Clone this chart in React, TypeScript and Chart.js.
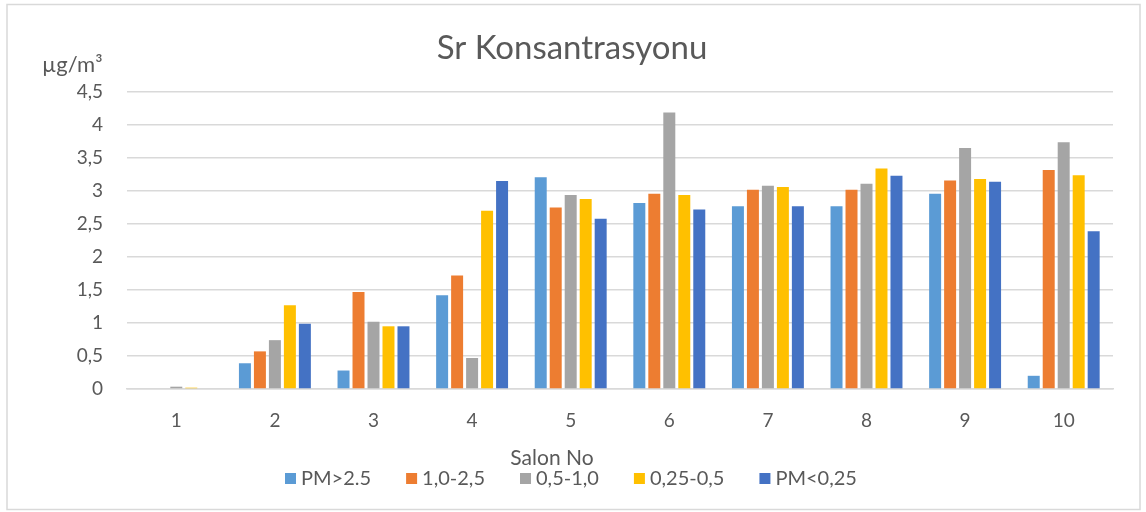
import React, { useEffect, useRef } from "react";
import { Chart, registerables } from "chart.js";

Chart.register(...registerables);

const categories = ["1", "2", "3", "4", "5", "6", "7", "8", "9", "10"];
const seriesNames = ["PM>2.5", "1,0-2,5", "0,5-1,0", "0,25-0,5", "PM<0,25"];
const pmAbove25 = [0, 0.39, 0.28, 1.42, 3.21, 2.82, 2.77, 2.77, 2.96, 0.2];
const pm10to25 = [0, 0.57, 1.47, 1.72, 2.75, 2.96, 3.02, 3.02, 3.16, 3.32];
const pm05to10 = [0.035, 0.74, 1.02, 0.47, 2.94, 4.19, 3.08, 3.11, 3.65, 3.74];
const pm025to05 = [0.02, 1.27, 0.95, 2.7, 2.88, 2.94, 3.06, 3.34, 3.18, 3.24];
const pmBelow025 = [0, 0.99, 0.95, 3.15, 2.58, 2.72, 2.77, 3.23, 3.14, 2.39];
const colors = ["#5B9BD5", "#ED7D31", "#A5A5A5", "#FFC000", "#4472C4"];
const titleText = "Sr Konsantrasyonu";
const unitText = "µg/m³";
const xTitleText = "Salon No";

const FONT = "Lato, 'Open Sans', sans-serif";
const TEXT = "#595959";

const annotations = {
  id: "annotations",
  afterDraw(chart: any) {
    const ctx = chart.ctx as CanvasRenderingContext2D;
    ctx.save();
    // outer border
    ctx.strokeStyle = "#D9D9D9";
    ctx.lineWidth = 1.5;
    ctx.strokeRect(7, 4.5, 1133, 505);
    ctx.fillStyle = TEXT;
    // title
    ctx.font = `33px ${FONT}`;
    ctx.textAlign = "center";
    ctx.textBaseline = "middle";
    ctx.fillText(titleText, 572, 48);
    // unit
    ctx.font = `22px ${FONT}`;
    ctx.textAlign = "left";
    ctx.textBaseline = "alphabetic";
    ctx.fillText(unitText, 42, 72);
    // x axis title
    ctx.font = `21px ${FONT}`;
    ctx.textAlign = "center";
    ctx.textBaseline = "middle";
    ctx.fillText(xTitleText, 552, 458);
    // legend
    ctx.font = `20px ${FONT}`;
    ctx.textAlign = "left";
    let x = 285;
    const y = 479;
    chart.data.datasets.forEach((ds: any) => {
      ctx.fillStyle = ds.backgroundColor;
      ctx.fillRect(x, y - 6, 11, 11);
      ctx.fillStyle = TEXT;
      ctx.fillText(ds.label, x + 16, y);
      x += 16 + ctx.measureText(ds.label).width + 35;
    });
    ctx.restore();
  },
};

export default function App() {
  const ref = useRef<HTMLCanvasElement | null>(null);
  useEffect(() => {
    if (!ref.current) return;
    const series = [pmAbove25, pm10to25, pm05to10, pm025to05, pmBelow025];
    const chart = new Chart(ref.current, {
      type: "bar",
      data: {
        labels: categories,
        datasets: series.map((d, i) => ({
          label: seriesNames[i],
          data: d,
          backgroundColor: colors[i],
          categoryPercentage: 0.76,
          barPercentage: 0.8,
        })),
      },
      options: {
        responsive: false,
        animation: false,
        layout: { padding: { left: 0, right: 33, top: 92, bottom: 0 } },
        plugins: {
          legend: { display: false },
          title: { display: false },
          tooltip: { enabled: false },
        },
        scales: {
          x: {
            grid: { display: false, drawTicks: false },
            border: { color: "#D9D9D9", width: 1.5 },
            ticks: {
              color: TEXT,
              font: { family: FONT, size: 19 },
              padding: 20,
              maxRotation: 0,
            },
            afterFit: (scale: any) => {
              scale.height = 123;
            },
          },
          y: {
            min: 0,
            max: 4.5,
            grid: { color: "#D9D9D9", lineWidth: 1.5, drawTicks: false },
            border: { display: false },
            ticks: {
              stepSize: 0.5,
              color: TEXT,
              font: { family: FONT, size: 19 },
              padding: 24,
              callback: (v: any) => String(v).replace(".", ","),
            },
            afterFit: (scale: any) => {
              scale.width = 127;
            },
          },
        },
      },
      plugins: [annotations],
    });
    return () => chart.destroy();
  }, []);
  return (
    <div style={{ position: "absolute", left: 0, top: 0, width: 1146, height: 512, background: "#fff" }}>
      <canvas ref={ref} width={1146} height={512} style={{ width: 1146, height: 512 }} />
    </div>
  );
}
